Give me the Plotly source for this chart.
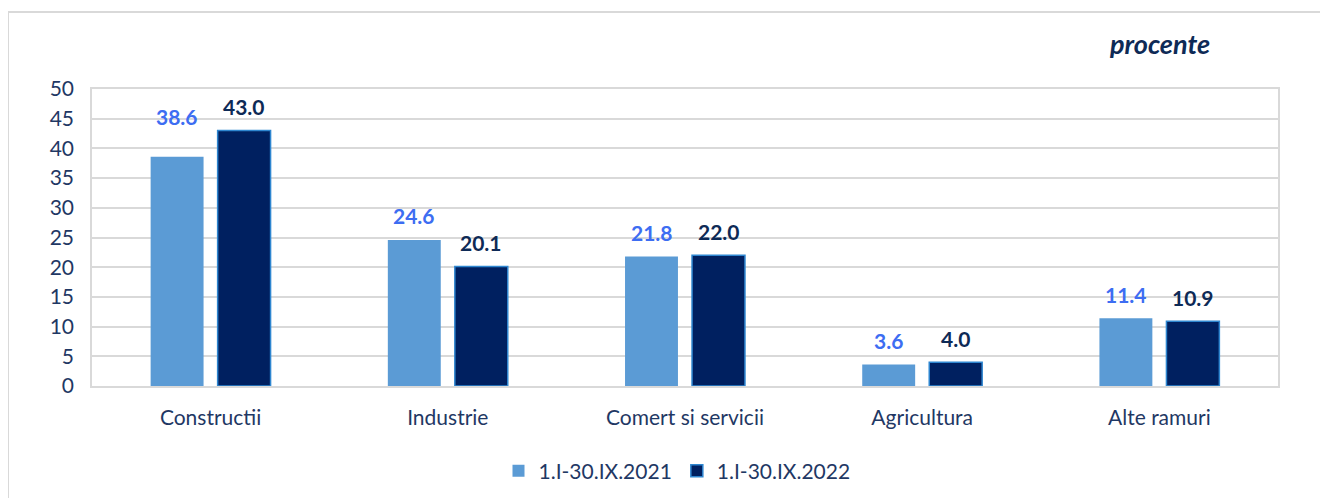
import plotly.graph_objects as go

categories = ["Constructii", "Industrie", "Comert si servicii", "Agricultura", "Alte ramuri"]
series_names = ["1.I-30.IX.2021", "1.I-30.IX.2022"]
values_2021 = [38.6, 24.6, 21.8, 3.6, 11.4]
values_2022 = [43.0, 20.1, 22.0, 4.0, 10.9]
y_ticks = [0, 5, 10, 15, 20, 25, 30, 35, 40, 45, 50]

# style
LIGHT = "#5B9BD5"
DARK = "#002060"
LABEL_LIGHT = "#3D6DF2"
LABEL_DARK = "#0E2A56"
TEXT = "#1F3864"
GRID = "#D9D9D9"
FONT = "Lato"
label_shift_2021 = [40, 24, 24, 24, 24]
label_shift_2022 = [24, 24, 24, 24, 24]

bargap = 0.435
bargroupgap = 0.21

# page offset (body margin) compensation
OFF = 8
L, R, T, B = 92 - OFF, 50 + OFF, 89 - OFF, 112 + OFF
W, H = 1328, 498
pw = W - L - R
ph = H - T - B

def px_x(x):
    return (x - OFF - L) / pw

def px_y(y):
    return (H - B - (y - OFF)) / ph

fig = go.Figure()
fig.add_trace(go.Bar(x=categories, y=values_2021, name=series_names[0],
                     marker=dict(color=LIGHT, line=dict(width=0))))
fig.add_trace(go.Bar(x=categories, y=values_2022, name=series_names[1],
                     marker=dict(color=DARK, line=dict(color="#2E86D0", width=1.5))))

annotations = []
slot = (1 - bargap) / 2
for i, c in enumerate(categories):
    annotations.append(dict(x=i - slot / 2, y=values_2021[i], xref="x", yref="y",
                            text=f"{values_2021[i]:.1f}", showarrow=False,
                            yshift=label_shift_2021[i],
                            font=dict(family=FONT, size=21, color=LABEL_LIGHT, weight="bold")))
    annotations.append(dict(x=i + slot / 2, y=values_2022[i], xref="x", yref="y",
                            text=f"{values_2022[i]:.1f}", showarrow=False,
                            yshift=label_shift_2022[i],
                            font=dict(family=FONT, size=21, color=LABEL_DARK, weight="bold")))

annotations.append(dict(x=px_x(1159), y=px_y(44), xref="paper", yref="paper",
                        xanchor="center", yanchor="middle",
                        text="<b><i>procente</i></b>",
                        showarrow=False, font=dict(family=FONT, size=27, color="#0E2A56")))

fig.update_layout(
    width=W, height=H,
    margin=dict(l=L, r=R, t=T, b=B),
    paper_bgcolor="white", plot_bgcolor="white",
    barmode="group", bargap=bargap, bargroupgap=bargroupgap,
    font=dict(family=FONT, color=TEXT),
    showlegend=True,
    legend=dict(orientation="h", x=px_x(677), xanchor="center", y=px_y(471), yanchor="middle",
                font=dict(family=FONT, size=21, color=TEXT), itemwidth=30,
                traceorder="normal"),
    annotations=annotations,
)

fig.update_yaxes(range=[0, 50], tickvals=y_ticks, showgrid=True, gridcolor=GRID, gridwidth=1.5,
                 tickfont=dict(family=FONT, size=21, color=TEXT), ticks="", ticklen=0,
                 ticklabelstandoff=12,
                 showline=True, linecolor=GRID, linewidth=1.5, mirror=True, zeroline=False)
fig.update_xaxes(tickfont=dict(family=FONT, size=21, color=TEXT), ticks="",
                 ticklabelstandoff=12,
                 showline=True, linecolor=GRID, linewidth=1.5, mirror=True)

# outer frame
fig.add_shape(type="rect", xref="paper", yref="paper",
              x0=px_x(8), x1=px_x(1345),
              y0=px_y(515), y1=px_y(12),
              line=dict(color=GRID, width=2), layer="below")

fig.write_html("out.html")
